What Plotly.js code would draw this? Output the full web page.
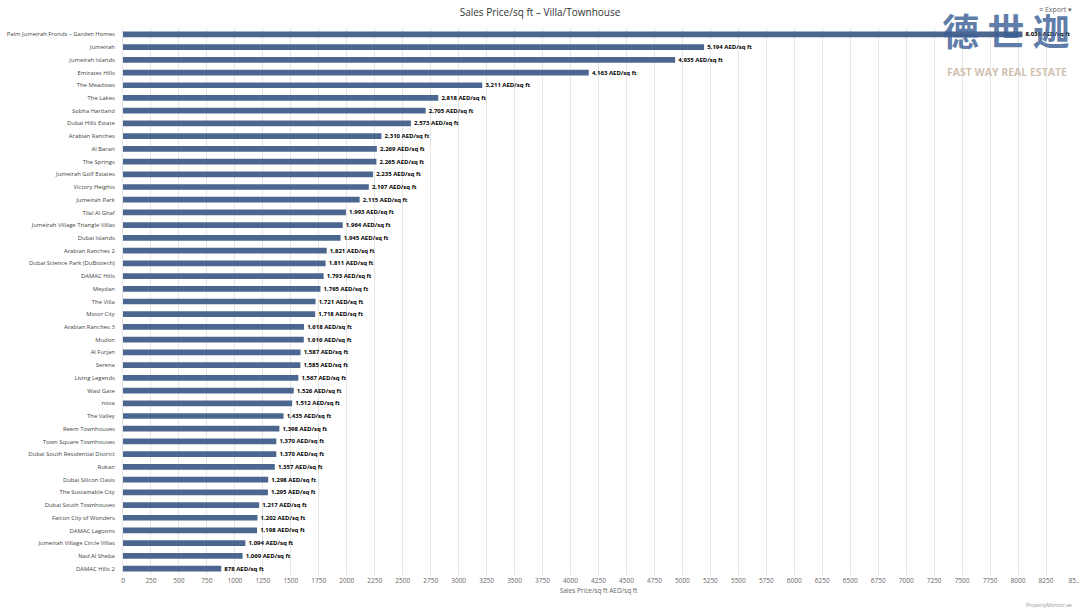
<!DOCTYPE html>
<html>
<head>
<meta charset="utf-8">
<script src="https://cdn.plot.ly/plotly-3.0.1.min.js"></script>
<style>
html,body{margin:0;padding:0;background:#fff;}
#chart{width:1080px;height:608px;}
</style>
</head>
<body>
<div id="chart"></div>
<script>
const communities = [
  "Palm Jumeirah Fronds – Garden Homes","Jumeirah","Jumeirah Islands","Emirates Hills","The Meadows",
  "The Lakes","Sobha Hartland","Dubai Hills Estate","Arabian Ranches","Al Barari",
  "The Springs","Jumeirah Golf Estates","Victory Heights","Jumeirah Park","Tilal Al Ghaf",
  "Jumeirah Village Triangle Villas","Dubai Islands","Arabian Ranches 2","Dubai Science Park (DuBiotech)","DAMAC Hills",
  "Meydan","The Villa","Motor City","Arabian Ranches 3","Mudon",
  "Al Furjan","Serena","Living Legends","Wasl Gate","nova",
  "The Valley","Reem Townhouses","Town Square Townhouses","Dubai South Residential District","Rukan",
  "Dubai Silicon Oasis","The Sustainable City","Dubai South Townhouses","Falcon City of Wonders","DAMAC Lagoons",
  "Jumeirah Village Circle Villas","Nad Al Sheba","DAMAC Hills 2"
];
const pricePerSqft = [
  8039,5194,4935,4163,3211,
  2818,2705,2573,2310,2269,
  2265,2235,2197,2115,1993,
  1964,1945,1821,1811,1793,
  1765,1721,1718,1618,1616,
  1587,1585,1567,1526,1512,
  1435,1398,1370,1370,1357,
  1298,1295,1217,1202,1198,
  1094,1069,878
];
const xTickVals = [0,250,500,750,1000,1250,1500,1750,2000,2250,2500,2750,3000,3250,3500,3750,4000,4250,4500,4750,5000,5250,5500,5750,6000,6250,6500,6750,7000,7250,7500,7750,8000,8250,8500];
const xTickText = ["0","250","500","750","1000","1250","1500","1750","2000","2250","2500","2750","3000","3250","3500","3750","4000","4250","4500","4750","5000","5250","5500","5750","6000","6250","6500","6750","7000","7250","7500","7750","8000","8250","85.."];

const trace = {
  type: 'bar',
  orientation: 'h',
  x: pricePerSqft,
  y: communities,
  marker: {color: '#4b6790'},
  texttemplate: '\u00a0\u00a0%{x:,} AED/sq ft',
  textposition: 'outside',
  constraintext: 'none',
  cliponaxis: false,
  textfont: {family: 'Open Sans, sans-serif', size: 6, color: '#000', weight: 'bold'},
  hoverinfo: 'x+y'
};

const layout = {
  width: 1080, height: 608,
  margin: {l: 123, r: 6, t: 28, b: 33},
  paper_bgcolor: '#fff', plot_bgcolor: '#fff',
  bargap: 0.55,
  showlegend: false,
  font: {family: 'Open Sans, sans-serif', color: '#666'},
  title: {text: 'Sales Price/sq ft – Villa/Townhouse', x: 0.5, xanchor: 'center', y: 0.985, yanchor: 'top',
          font: {family: 'Open Sans, sans-serif', size: 10, color: '#333'}},
  xaxis: {
    range: [0, 8500],
    tickvals: xTickVals, ticktext: xTickText,
    showgrid: true, gridcolor: '#e6e6e6', gridwidth: 1,
    zeroline: false, showline: false, ticks: '',
    tickfont: {size: 6.5, color: '#666'},
    title: {text: 'Sales Price/sq ft AED/sq ft', font: {size: 6.5, color: '#666'}, standoff: 4},
    fixedrange: true
  },
  yaxis: {
    autorange: 'reversed',
    type: 'category',
    showgrid: false, zeroline: false,
    showline: true, linecolor: '#e6e6e6', linewidth: 1,
    ticks: '',
    tickfont: {size: 5.9, color: '#444'},
    ticklabelstandoff: 6,
    fixedrange: true
  },
  annotations: [
    {xref: 'paper', yref: 'paper', x: 0.998, y: 1.05, xanchor: 'right', yanchor: 'top', showarrow: false,
     text: '<b>德 世 迦</b>', font: {family: 'Noto Sans CJK SC', size: 37, color: 'rgba(60,95,150,0.82)'}},
    {xref: 'paper', yref: 'paper', x: 0.995, y: 0.936, xanchor: 'right', yanchor: 'top', showarrow: false,
     text: '<b>FAST WAY REAL ESTATE</b>', font: {family: 'Open Sans, sans-serif', size: 10.5, color: 'rgba(200,180,160,0.85)'}},
    {xref: 'paper', yref: 'paper', x: 1.0, y: 1.045, xanchor: 'right', yanchor: 'top', showarrow: false,
     text: '≡ Export ▾', font: {size: 7, color: '#666'}},
    {xref: 'paper', yref: 'paper', x: 1.0, y: -0.045, xanchor: 'right', yanchor: 'top', showarrow: false,
     text: 'PropertyMonitor.ae', font: {size: 5, color: '#999'}}
  ]
};

Plotly.newPlot('chart', [trace], layout, {displayModeBar: false});
</script>
</body>
</html>
